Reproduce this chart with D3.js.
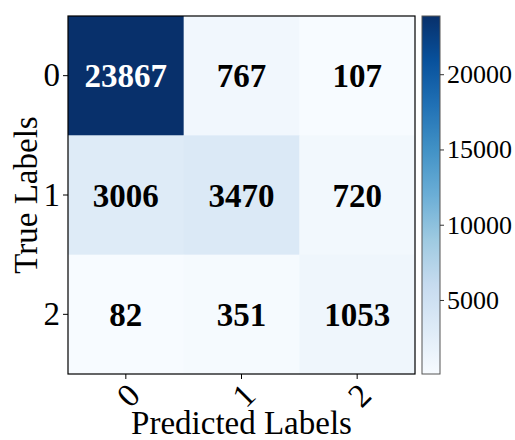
<!DOCTYPE html>
<html>
<head>
<meta charset="utf-8">
<script src="https://cdn.jsdelivr.net/npm/d3@7"></script>
<style>
  body { margin: 0; background: #fff; }
</style>
</head>
<body>
<div id="chart"></div>
<script>
var trueLabels = ["0", "1", "2"];
var predLabels = ["0", "1", "2"];
var counts = [
	[23867, 767, 107],
	[3006, 3470, 720],
	[82, 351, 1053]
];
var colorbarTicks = [5000, 10000, 15000, 20000];
// matplotlib "Blues" anchor colours (colorbrewer 9 class)
var blues = ["#f7fbff", "#deebf7", "#c6dbef", "#9ecae1", "#6baed6", "#4292c6", "#2171b5", "#08519c", "#08306b"];

var fontFamily = "'Liberation Serif', 'Times New Roman', serif";
var svgWidth = 515;
var svgHeight = 440;
var plotLeft = 68, plotTop = 16, plotRight = 415, plotBottom = 374;
var barLeft = 422, barRight = 440;

var flat = [];
counts.forEach(function (row, i) {
	row.forEach(function (v, j) {
		flat.push({ "row": i, "col": j, "value": v });
	});
});
var vmin = d3.min(flat, function (d) { return d.value; });
var vmax = d3.max(flat, function (d) { return d.value; });

var color = d3.scaleLinear()
	.domain(blues.map(function (c, i) { return vmin + i * (vmax - vmin) / (blues.length - 1); }))
	.range(blues)
	.interpolate(d3.interpolateRgb);

var x = d3.scaleBand().domain(predLabels).range([plotLeft, plotRight]);
var y = d3.scaleBand().domain(trueLabels).range([plotTop, plotBottom]);

var svg = d3.select("#chart").append("svg")
	.attr("width", svgWidth)
	.attr("height", svgHeight);

// cells
svg.append("g").selectAll("rect")
	.data(flat)
	.enter()
	.append("rect")
	.attr("x", function (d) { return x(predLabels[d.col]); })
	.attr("y", function (d) { return y(trueLabels[d.row]); })
	.attr("width", x.bandwidth() + 0.5)
	.attr("height", y.bandwidth() + 0.5)
	.style("fill", function (d) { return color(d.value); });

// cell numbers
var threshold = (vmax + vmin) / 2;
svg.append("g").selectAll("text")
	.data(flat)
	.enter()
	.append("text")
	.attr("x", function (d) { return x(predLabels[d.col]) + x.bandwidth() / 2; })
	.attr("y", function (d) { return y(trueLabels[d.row]) + y.bandwidth() / 2; })
	.attr("dy", "0.35em")
	.attr("text-anchor", "middle")
	.style("font-family", fontFamily)
	.style("font-size", "33px")
	.style("font-weight", "bold")
	.style("fill", function (d) { return d.value > threshold ? "#fff" : "#000"; })
	.text(function (d) { return d.value; });

// frame
svg.append("rect")
	.attr("x", plotLeft)
	.attr("y", plotTop)
	.attr("width", plotRight - plotLeft)
	.attr("height", plotBottom - plotTop)
	.style("fill", "none")
	.style("stroke", "#000")
	.style("stroke-width", 1.2);

// y axis
var yAxis = svg.append("g")
	.attr("transform", "translate(" + plotLeft + ",0)")
	.call(d3.axisLeft(y).tickSize(5).tickPadding(3));
yAxis.select(".domain").remove();
yAxis.selectAll("text").style("font-family", fontFamily).style("font-size", "33px").attr("fill", "#000");
yAxis.selectAll("line").attr("stroke", "#000");

// x axis with rotated labels
var xAxis = svg.append("g")
	.attr("transform", "translate(0," + plotBottom + ")")
	.call(d3.axisBottom(x).tickSize(5));
xAxis.select(".domain").remove();
xAxis.selectAll("line").attr("stroke", "#000");
xAxis.selectAll("text")
	.style("font-family", fontFamily)
	.style("font-size", "33px")
	.attr("fill", "#000")
	.attr("y", 0)
	.attr("dy", "0.35em")
	.attr("text-anchor", "middle")
	.attr("transform", "translate(2,21) rotate(-45)");

// axis titles
svg.append("text")
	.attr("x", (plotLeft + plotRight) / 2)
	.attr("y", 434)
	.attr("text-anchor", "middle")
	.style("font-family", fontFamily)
	.style("font-size", "33px")
	.text("Predicted Labels");

svg.append("text")
	.attr("transform", "translate(37," + (plotTop + plotBottom) / 2 + ") rotate(-90)")
	.attr("text-anchor", "middle")
	.style("font-family", fontFamily)
	.style("font-size", "33px")
	.text("True Labels");

// colorbar
var grad = svg.append("defs").append("linearGradient")
	.attr("id", "cbGrad")
	.attr("x1", 0).attr("y1", 1)
	.attr("x2", 0).attr("y2", 0);
grad.selectAll("stop")
	.data(blues)
	.enter()
	.append("stop")
	.attr("offset", function (d, i) { return i / (blues.length - 1); })
	.attr("stop-color", function (d) { return d; });

svg.append("rect")
	.attr("x", barLeft)
	.attr("y", plotTop)
	.attr("width", barRight - barLeft)
	.attr("height", plotBottom - plotTop)
	.style("fill", "url(#cbGrad)")
	.style("stroke", "#555")
	.style("stroke-width", 1);

var cbScale = d3.scaleLinear().domain([vmin, vmax]).range([plotBottom, plotTop]);
var cbAxis = svg.append("g")
	.attr("transform", "translate(" + barRight + ",0)")
	.call(d3.axisRight(cbScale).tickValues(colorbarTicks).tickSize(4).tickPadding(3).tickFormat(d3.format("d")));
cbAxis.select(".domain").remove();
cbAxis.selectAll("line").attr("stroke", "#333");
cbAxis.selectAll("text").style("font-family", fontFamily).style("font-size", "26px").attr("fill", "#000");
</script>
</body>
</html>
